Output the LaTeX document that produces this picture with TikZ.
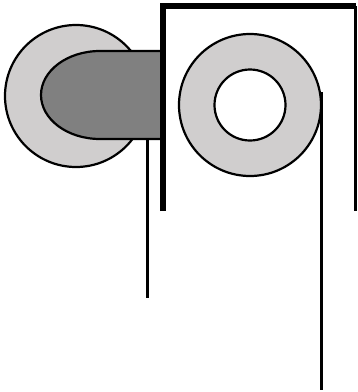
\documentclass[tikz,border=0pt]{standalone}
\definecolor{ringgray}{RGB}{208,206,206}
\definecolor{capgray}{RGB}{128,128,128}
\tikzset{outline/.style={draw=black,line width=2.2pt},
  heavy/.style={draw=black,line width=6pt,line cap=butt,line join=miter},
  wire/.style={draw=black,line width=2.4pt,line cap=butt}}
\begin{document}
\begin{tikzpicture}[x=1pt,y=-1pt]
\useasboundingbox (0,0) rectangle (358,392);
% left ring
\path[outline,fill=ringgray] (76,96) circle[radius=71];
% right ring
\path[outline,fill=ringgray] (250,105) circle[radius=71];
\path[outline,fill=white] (250,105) circle[radius=35.5];
% gray cap
\path[outline,fill=capgray] (163,51) -- (100,51) .. controls (67,51) and (41,71) .. (41,95) .. controls (41,119) and (67,139) .. (100,139) -- (163,139);
% bracket
\draw[heavy] (163,211) -- (163,6) -- (355.5,6);
\draw[draw=black,line width=3pt] (355.5,6) -- (355.5,211);
% wires
\draw[wire] (147.4,139) -- (147.4,298);
\draw[wire] (321.3,92) -- (321.3,390);
\end{tikzpicture}
\end{document}
